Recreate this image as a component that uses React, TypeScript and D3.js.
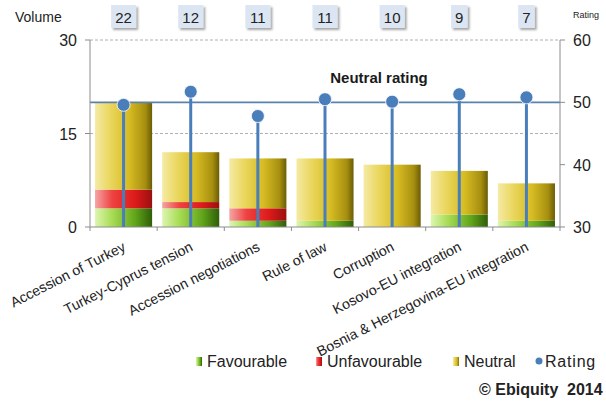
import React from "react";
import * as d3 from "d3";

// chart values
const categories = [
  "Accession of Turkey",
  "Turkey-Cyprus tension",
  "Accession negotiations",
  "Rule of law",
  "Corruption",
  "Kosovo-EU integration",
  "Bosnia & Herzegovina-EU integration",
];
const favourable = [3, 3, 1, 1, 0, 2, 1];
const unfavourable = [3, 1, 2, 0, 0, 0, 0];
const neutral = [14, 8, 8, 10, 10, 7, 6];
const rating = [49.6, 51.7, 47.8, 50.5, 50.1, 51.3, 50.8];
const volume = [22, 12, 11, 11, 10, 9, 7];
const volumeTicks = [0, 15, 30];
const ratingTicks = [30, 40, 50, 60];
const neutralRating = 50;

const W = 606;
const H = 409;
const left = 90;
const right = 560;
const top = 40;
const bottom = 227;
const font = "'Liberation Sans', Arial, sans-serif";

const seriesKeys = ["favourable", "unfavourable", "neutral"];
const seriesFill: Record<string, string> = {
  favourable: "url(#gGreen)",
  unfavourable: "url(#gRed)",
  neutral: "url(#gYellow)",
};

export default function App() {
  const x = d3
    .scaleBand<string>()
    .domain(categories)
    .range([left, right])
    .paddingInner(0.15)
    .paddingOuter(0.075);
  const step = x.step();
  const yL = d3.scaleLinear().domain([0, 30]).range([bottom, top]);
  const yR = d3.scaleLinear().domain([30, 60]).range([bottom, top]);

  const rows = categories.map((c, i) => ({
    cat: c,
    favourable: favourable[i],
    unfavourable: unfavourable[i],
    neutral: neutral[i],
  }));
  const stacked = d3.stack<any>().keys(seriesKeys)(rows);

  const cx = (c: string) => (x(c) as number) + x.bandwidth() / 2;
  const axisColor = "#8c8c8c";
  const blue = "#4a7ebb";

  const legend = [
    { label: "Favourable", fill: "url(#gGreen)", x: 196, kind: "sq" },
    { label: "Unfavourable", fill: "url(#gRed)", x: 316, kind: "sq" },
    { label: "Neutral", fill: "url(#gYellow)", x: 453, kind: "sq" },
    { label: "Rating", fill: blue, x: 539, kind: "dot" },
  ];

  return (
    <svg
      width={W}
      height={H}
      style={{ position: "absolute", left: 0, top: 0, background: "#fff" }}
      fontFamily={font}
    >
      <defs>
        <linearGradient id="gYellow" x1="0" x2="1" y1="0" y2="0">
          <stop offset="0" stopColor="#f5eaa5" />
          <stop offset="0.25" stopColor="#ebd862" />
          <stop offset="0.6" stopColor="#d6bb22" />
          <stop offset="0.88" stopColor="#a68f10" />
          <stop offset="1" stopColor="#6b5c05" />
        </linearGradient>
        <linearGradient id="gGreen" x1="0" x2="1" y1="0" y2="0">
          <stop offset="0" stopColor="#ddf6b0" />
          <stop offset="0.3" stopColor="#a8dc55" />
          <stop offset="0.7" stopColor="#62a61a" />
          <stop offset="1" stopColor="#2f5e0a" />
        </linearGradient>
        <linearGradient id="gRed" x1="0" x2="1" y1="0" y2="0">
          <stop offset="0" stopColor="#f5a5a5" />
          <stop offset="0.3" stopColor="#ef4242" />
          <stop offset="0.7" stopColor="#dd1a1a" />
          <stop offset="1" stopColor="#9a1010" />
        </linearGradient>
        <filter id="shadow" x="-20%" y="-20%" width="160%" height="160%">
          <feDropShadow dx="2" dy="2" stdDeviation="1.2" floodColor="#000" floodOpacity="0.35" />
        </filter>
      </defs>

      {/* dashed gridlines */}
      {volumeTicks
        .filter((t) => t > 0)
        .map((t) => (
          <line
            key={"g" + t}
            x1={left}
            x2={right}
            y1={yL(t)}
            y2={yL(t)}
            stroke="#b0b0b0"
            strokeDasharray="3,2"
          />
        ))}

      {/* stacked bars */}
      {stacked.map((s) =>
        s.map((d, i) =>
          d[1] - d[0] > 0 ? (
            <rect
              key={s.key + i}
              x={x(categories[i])}
              width={x.bandwidth()}
              y={yL(d[1])}
              height={yL(d[0]) - yL(d[1])}
              fill={seriesFill[s.key]}
            />
          ) : null
        )
      )}

      {/* neutral rating line */}
      <line
        x1={left}
        x2={right}
        y1={yR(neutralRating)}
        y2={yR(neutralRating)}
        stroke="#5b82ad"
        strokeWidth={1.6}
      />
      <text
        x={379}
        y={83}
        textAnchor="middle"
        fontSize={15}
        fontWeight="bold"
        fill="#1a1a1a"
      >
        Neutral rating
      </text>

      {/* axes */}
      <line x1={left} x2={left} y1={top} y2={bottom} stroke={axisColor} />
      <line x1={right} x2={right} y1={top} y2={bottom} stroke={axisColor} />
      <line x1={left} x2={right} y1={bottom} y2={bottom} stroke={axisColor} />
      {volumeTicks.map((t) => (
        <g key={"l" + t}>
          <line x1={left - 5} x2={left} y1={yL(t)} y2={yL(t)} stroke={axisColor} />
          <text x={left - 13} y={yL(t) + 6} textAnchor="end" fontSize={16} fill="#222">
            {t}
          </text>
        </g>
      ))}
      {ratingTicks.map((t) => (
        <g key={"r" + t}>
          <line x1={right} x2={right + 5} y1={yR(t)} y2={yR(t)} stroke={axisColor} />
          <text x={right + 13} y={yR(t) + 6} textAnchor="start" fontSize={16} fill="#222">
            {t}
          </text>
        </g>
      ))}
      {d3.range(categories.length + 1).map((i) => (
        <line
          key={"xt" + i}
          x1={left + i * step}
          x2={left + i * step}
          y1={bottom}
          y2={bottom + 4}
          stroke={axisColor}
        />
      ))}

      {/* rating lollipops */}
      {categories.map((c, i) => (
        <g key={"p" + i}>
          <line
            x1={cx(c)}
            x2={cx(c)}
            y1={yR(rating[i])}
            y2={bottom}
            stroke={blue}
            strokeWidth={3}
          />
          <circle cx={cx(c)} cy={yR(rating[i])} r={6.5} fill={blue} stroke="#fff" strokeWidth={0.8} />
        </g>
      ))}

      {/* category labels */}
      {categories.map((c) => (
        <text
          key={"c" + c}
          transform={`translate(${cx(c) + 3},${bottom + 23}) rotate(-27)`}
          textAnchor="end"
          fontSize={14.2}
          fill="#222"
        >
          {c}
        </text>
      ))}

      {/* volume boxes */}
      <text x={15} y={22} fontSize={14} fill="#222">
        Volume
      </text>
      <text x={573} y={18} fontSize={9} fill="#222">
        Rating
      </text>
      {categories.map((c, i) => {
        const label = String(volume[i]);
        const w = label.length * 8.5 + 8;
        return (
          <g key={"v" + i}>
            <rect
              x={cx(c) - w / 2}
              y={5}
              width={w}
              height={23}
              fill="#dce6f2"
              filter="url(#shadow)"
            />
            <text x={cx(c)} y={22.5} textAnchor="middle" fontSize={15} fill="#222">
              {label}
            </text>
          </g>
        );
      })}

      {/* legend */}
      {legend.map((l) => (
        <g key={l.label}>
          {l.kind === "sq" ? (
            <rect x={l.x} y={357} width={6} height={9} fill={l.fill} />
          ) : (
            <circle cx={l.x} cy={361} r={3.5} fill={l.fill} />
          )}
          <text
            x={l.x + (l.kind === "sq" ? 11 : 6)}
            y={367}
            fontSize={16}
            fill="#222"
            letterSpacing={l.kind === "sq" ? 0 : 0.8}
          >
            {l.label}
          </text>
        </g>
      ))}

      <text y={395} fontSize={16} fontWeight="bold" fill="#222">
        <tspan x={479}>© Ebiquity</tspan>
        <tspan x={567}>2014</tspan>
      </text>
    </svg>
  );
}
